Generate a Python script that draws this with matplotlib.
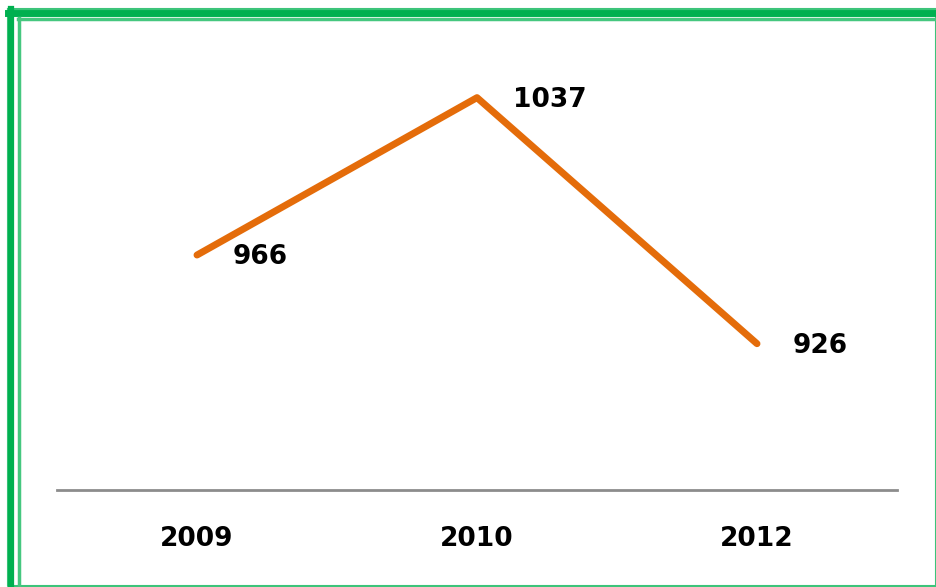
import matplotlib.pyplot as plt
from matplotlib.lines import Line2D

years = ['2009', '2010', '2012']
values = [966, 1037, 926]

W, H = 937, 587
fig = plt.figure(figsize=(W / 100, H / 100), dpi=100)
fig.patch.set_facecolor('white')

# ejes en pixeles de la figura
ax = fig.add_axes([57 / W, 1 - 490 / H, (897 - 57) / W, (490 - 40) / H])
x = list(range(len(years)))
ax.plot(x, values, color='#E46C0A', lw=5, solid_capstyle='round',
        solid_joinstyle='round')
ax.set_xlim(-0.5, len(years) - 0.5)
ax.set_ylim(860, 1063)

for xi, v in zip(x, values):
    ax.annotate(str(v), (xi, v), xytext=(26, -1.5), textcoords='offset points',
                ha='left', va='center', fontsize=19, fontweight='bold', color='black')

for s in ['top', 'right', 'left']:
    ax.spines[s].set_visible(False)
ax.spines['bottom'].set_color('#8c8c8c')
ax.spines['bottom'].set_linewidth(2)
ax.set_yticks([])
ax.set_xticks(x)
ax.set_xticklabels(years, fontsize=19, fontweight='bold')
ax.tick_params(axis='x', length=0, pad=26)


def px_line(xs, ys, color, lw):
    fig.add_artist(Line2D([a / W for a in xs], [1 - b / H for b in ys],
                          transform=fig.transFigure, color=color, lw=lw))


# marco verde
px_line([8, 936, 936, 8, 8], [9, 9, 586, 586, 9], '#3CC47A', 1.5)
px_line([11, 11], [9, 587], '#00B050', 4.5)
px_line([8, 937], [12.5, 12.5], '#00B050', 5)
px_line([18.5, 18.5], [18, 587], '#45C77F', 2.5)
px_line([18, 937], [18.5, 18.5], '#45C77F', 2.5)

fig.savefig('out.png', dpi=100)
